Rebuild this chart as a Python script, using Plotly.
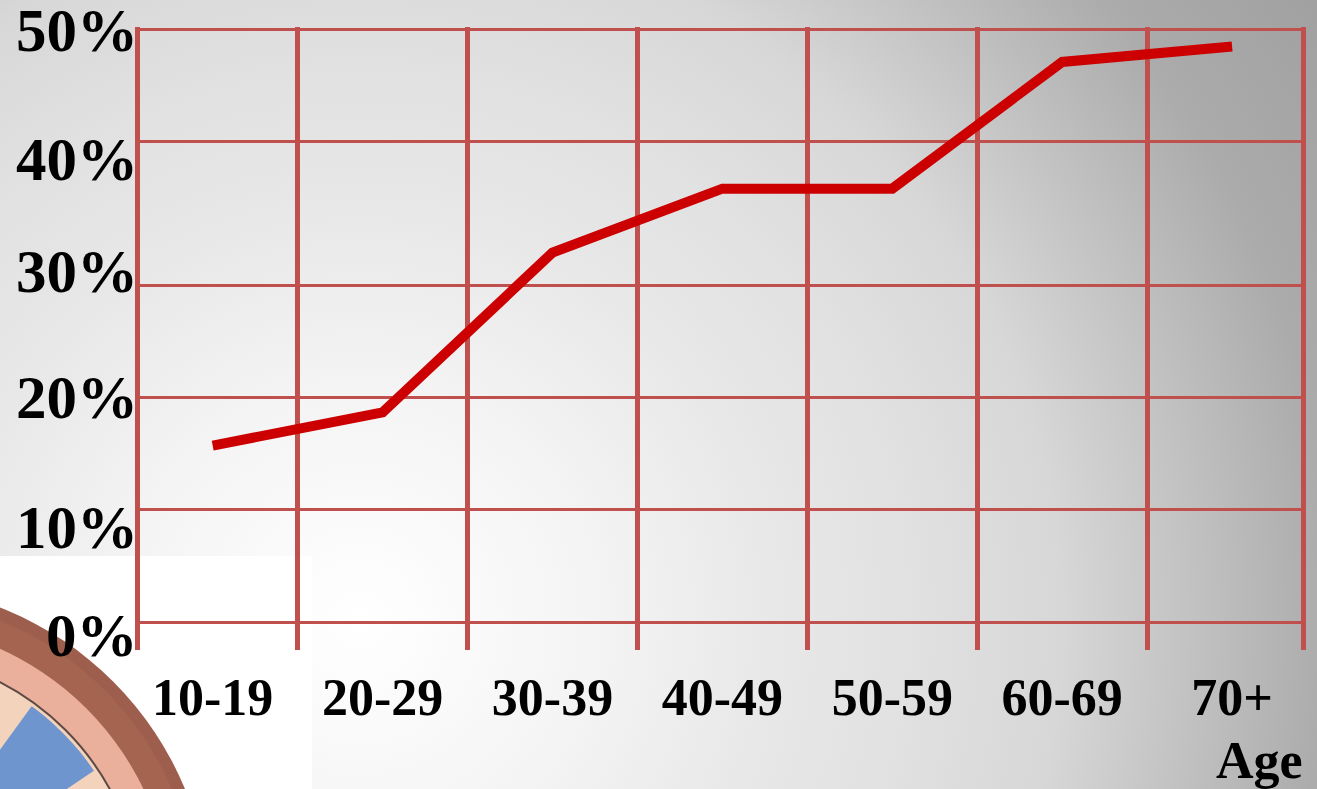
import base64
import math
import plotly.graph_objects as go

# ---------------- data ----------------
age_groups = ["10-19", "20-29", "30-39", "40-49", "50-59", "60-69", "70+"]
share_pct = [14.9, 17.7, 31.2, 36.6, 36.6, 47.3, 48.6]
y_tick_labels = ["0%", "10%", "20%", "30%", "40%", "50%"]
x_axis_title = "Age"

# ---------------- layout constants ----------------
W, H = 1317, 789
GRID = "#C0504D"
LINE = "#CC0000"
FONT = "Liberation Serif, Times New Roman, serif"

# plot area in pixels
px_left, px_right = 139.5, 1300.5
px_top, px_bottom = 27, 650

# hand-drawn (irregular) grid rows and label rows, in axis units
grid_rows = [0, 9.46, 18.92, 28.38, 40.54, 50.0]
label_rows = [-1.18, 8.02, 18.92, 29.56, 39.10, 49.92]
y_range = [-2.365, 50.25]
x_range = [-0.4308, 6.4026]

# background gradient as inline SVG image
svg = f'''<svg xmlns="http://www.w3.org/2000/svg" width="{W}" height="{H}" viewBox="0 0 {W} {H}" preserveAspectRatio="none">
<defs><radialGradient id="g" gradientUnits="userSpaceOnUse" cx="360" cy="620" r="1150">
<stop offset="0" stop-color="#ffffff"/>
<stop offset="0.2" stop-color="#f4f4f4"/>
<stop offset="0.37" stop-color="#e7e7e7"/>
<stop offset="0.48" stop-color="#e1e1e1"/>
<stop offset="0.61" stop-color="#d7d7d7"/>
<stop offset="0.845" stop-color="#ababab"/>
<stop offset="1" stop-color="#a0a0a0"/>
</radialGradient></defs>
<rect width="{W}" height="{H}" fill="url(#g)"/></svg>'''
bg_src = "data:image/svg+xml;base64," + base64.b64encode(svg.encode()).decode()

fig = go.Figure()
fig.add_trace(go.Scatter(
    x=age_groups, y=share_pct, mode="lines",
    line=dict(color=LINE, width=10),
    hoverinfo="skip", showlegend=False,
))

# ---------------- decorative clock picture (bottom-left) ----------------
cx_pf = -120 / W
cy_pf = 1 - 915 / H


def circle(r, fill, line_color=None, line_width=0):
    return dict(type="circle", xref="paper", yref="paper", layer="below",
                xsizemode="pixel", ysizemode="pixel",
                xanchor=cx_pf, yanchor=cy_pf,
                x0=-r, x1=r, y0=-r, y1=r,
                fillcolor=fill,
                line=dict(color=line_color or fill, width=line_width))


def wedge(r0, r1, a0, a1, fill):
    n = 16
    pts = []
    for k in range(n + 1):
        a = math.radians(a0 + (a1 - a0) * k / n)
        pts.append((r1 * math.cos(a), r1 * math.sin(a)))
    for k in range(n, -1, -1):
        a = math.radians(a0 + (a1 - a0) * k / n)
        pts.append((r0 * math.cos(a), r0 * math.sin(a)))
    path = "M " + " L ".join(f"{x:.1f},{y:.1f}" for x, y in pts) + " Z"
    return dict(type="path", xref="paper", yref="paper", layer="below",
                xsizemode="pixel", ysizemode="pixel",
                xanchor=cx_pf, yanchor=cy_pf, path=path,
                fillcolor=fill, line=dict(width=0))


shapes = [
    dict(type="rect", xref="paper", yref="paper", layer="below",
         x0=0, x1=312 / W, y0=0, y1=1 - 556 / H,
         fillcolor="white", line=dict(width=0)),
    circle(330, "#9E5E4E"),
    circle(318, "#A4644F"),
    circle(292, "#EBB09B"),
    circle(262, "#F3D3BC", "#5E4A45", 2),
    wedge(170, 258, 34, 54, "#6F95CF"),
]

# y tick labels (hand-placed rows in the original slide)
annotations = [
    dict(text=lab, xref="paper", yref="y", x=139 / W, y=row,
         xanchor="right", yanchor="middle", showarrow=False, borderpad=0,
         font=dict(family=FONT, size=61, color="black", weight="bold"))
    for lab, row in zip(y_tick_labels, label_rows)
]
annotations.append(dict(
    text=x_axis_title, xref="paper", yref="paper",
    x=1259 / W, y=1 - 760 / H, xanchor="center", yanchor="middle",
    showarrow=False,
    font=dict(family=FONT, size=52, color="black", weight="bold"),
))

fig.update_layout(
    width=W, height=H,
    margin=dict(l=0, r=0, t=0, b=0),
    paper_bgcolor="white",
    plot_bgcolor="rgba(0,0,0,0)",
    showlegend=False,
    images=[dict(source=bg_src, xref="paper", yref="paper", x=0, y=1,
                 sizex=1, sizey=1, sizing="stretch", xanchor="left",
                 yanchor="top", layer="below")],
    shapes=shapes,
    xaxis=dict(
        type="category", categoryorder="array", categoryarray=age_groups,
        domain=[px_left / W, px_right / W], range=x_range,
        tickson="boundaries", showgrid=True, gridcolor=GRID, gridwidth=5,
        ticks="", showline=False, zeroline=False, automargin=False,
        tickfont=dict(family=FONT, size=52, color="black", weight="bold"),
        ticklabelstandoff=12,
    ),
    yaxis=dict(
        domain=[1 - px_bottom / H, 1 - px_top / H], range=y_range,
        tickmode="array", tickvals=grid_rows, showticklabels=False,
        showgrid=True, gridcolor=GRID, gridwidth=3,
        showline=True, linecolor=GRID, linewidth=5, mirror=True,
        zeroline=False, ticks="", automargin=False,
    ),
    annotations=annotations,
)

fig.write_html("out.html")
